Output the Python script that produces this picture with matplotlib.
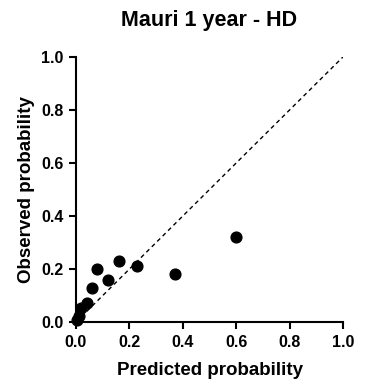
import matplotlib
matplotlib.use("Agg")
import matplotlib.pyplot as plt

plt.rcParams['font.family'] = ['Liberation Sans', 'DejaVu Sans']
plt.rcParams['font.weight'] = 'bold'

# calibration points
predicted = [0.005, 0.01, 0.02, 0.04, 0.06, 0.08, 0.12, 0.16, 0.23, 0.37, 0.60]
observed = [0.01, 0.023, 0.053, 0.073, 0.13, 0.20, 0.16, 0.23, 0.21, 0.18, 0.32]
ticks = [0.0, 0.2, 0.4, 0.6, 0.8, 1.0]

fig = plt.figure(figsize=(3.65, 3.84), dpi=100)
ax = fig.add_axes([0.208, 0.161, 0.732, 0.691])

# reference line
ax.plot([0, 1], [0, 1], linestyle=(0, (3, 2.5)), color='black', lw=1)
ax.scatter(predicted, observed, s=60, color='black', zorder=3, clip_on=False)

ax.set_xlim(0, 1)
ax.set_ylim(0, 1)
ax.set_xticks(ticks)
ax.set_yticks(ticks)
ax.set_xticklabels([f'{t:.1f}' for t in ticks])
ax.set_yticklabels([f'{t:.1f}' for t in ticks])
ax.tick_params(direction='out', length=5, width=1.5, labelsize=11.5, pad=4)
for lbl in ax.get_xticklabels() + ax.get_yticklabels():
    lbl.set_fontweight('bold')

for side in ['top', 'right']:
    ax.spines[side].set_visible(False)
for side in ['left', 'bottom']:
    ax.spines[side].set_linewidth(1.5)

ax.set_xlabel('Predicted probability', fontsize=13.5, fontweight='bold', labelpad=9)
ax.set_ylabel('Observed probability', fontsize=13.5, fontweight='bold', labelpad=4)
ax.set_title('Mauri 1 year - HD', fontsize=15.5, fontweight='bold', pad=22)

fig.savefig('out.png', dpi=100)
